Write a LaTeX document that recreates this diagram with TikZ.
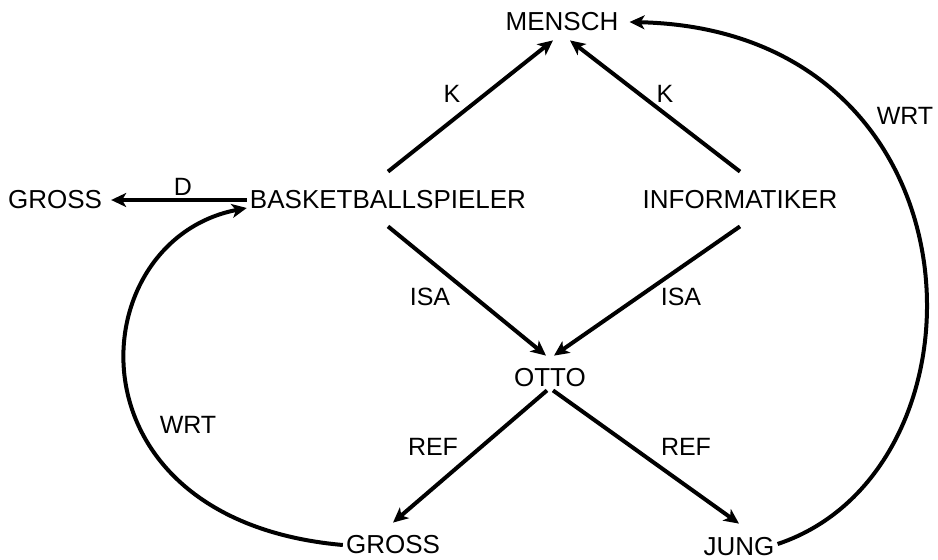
\documentclass[tikz,border=0pt]{standalone}
\usepackage{fontspec}
\setmainfont{Liberation Sans}
\usetikzlibrary{arrows.meta}
\begin{document}
\begin{tikzpicture}[x=1pt,y=-1pt,
  concept/.style={inner sep=3pt,font=\fontsize{26}{30}\selectfont},
  lbl/.style={inner sep=0pt,font=\fontsize{25}{30}\selectfont},
  rel/.style={line width=4pt,-{Stealth[length=15pt,width=14pt,inset=4pt]}}]
\useasboundingbox (0,0) rectangle (938,560);
\node[concept] (mensch) at (562,22) {MENSCH};
\node[concept] (bask) at (388,200) {BASKETBALLSPIELER};
\node[concept] (info) at (740,200) {INFORMATIKER};
\node[concept] (gross1) at (55,200) {GROSS};
\node[concept] (otto) at (550,378) {OTTO};
\node[concept] (gross2) at (393,545) {GROSS};
\node[concept] (jung) at (739,547) {JUNG};
\node[lbl] (k1) at (452,94) {K};
\node[lbl] (k2) at (665,94) {K};
\node[lbl] (d) at (183,187) {D};
\node[lbl] (isa1) at (430,297) {ISA};
\node[lbl] (isa2) at (681,297) {ISA};
\node[lbl] (ref1) at (433,447) {REF};
\node[lbl] (ref2) at (686,447) {REF};
\node[lbl] (wrt1) at (188,425) {WRT};
\node[lbl] (wrt2) at (905,116) {WRT};
\draw[rel] ([yshift=16pt]bask.north) -- ([xshift=-9pt,yshift=-6pt]mensch.south);
\draw[rel] ([yshift=16pt]info.north) -- ([xshift=8pt,yshift=-6pt]mensch.south);
\draw[rel] ([yshift=-14pt]bask.south) -- ([xshift=-4pt,yshift=10pt]otto.north);
\draw[rel] ([yshift=-14pt]info.south) -- ([xshift=4pt,yshift=10pt]otto.north);
\draw[rel] ([xshift=-3pt]otto.south) -- ([yshift=10pt]gross2.north);
\draw[rel] ([xshift=3pt]otto.south) -- ([yshift=11pt]jung.north);
\draw[rel] (bask.west) -- ([xshift=6pt]gross1.east);
\draw[rel] ([yshift=3pt]jung.east) .. controls (1000,470) and (990,30) .. ([xshift=8pt]mensch.east);
\draw[rel] (gross2.west) .. controls (60,520) and (80,240) .. ([yshift=-8pt]bask.west);
\end{tikzpicture}
\end{document}
